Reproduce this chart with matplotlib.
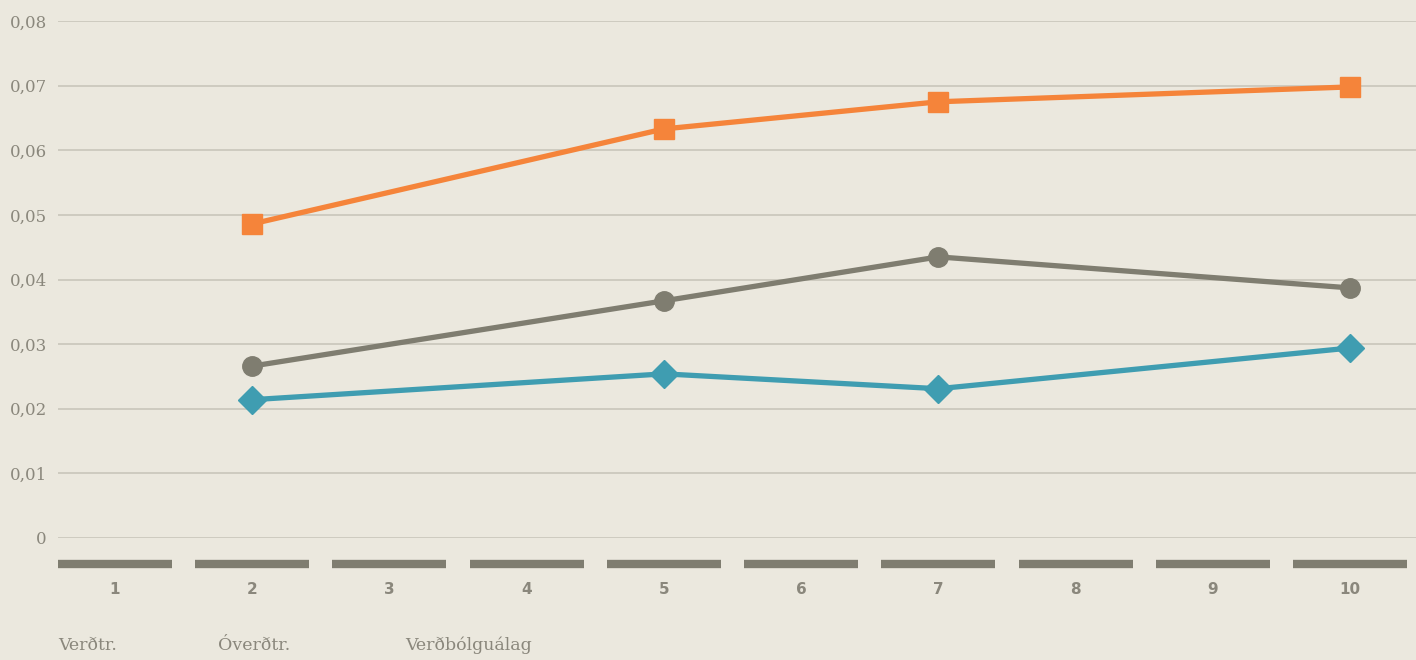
import numpy as np
import matplotlib
matplotlib.use("Agg")
import matplotlib.pyplot as plt
from matplotlib.ticker import FuncFormatter

# gögn lesin af myndinni
flokkar = [1, 2, 3, 4, 5, 6, 7, 8, 9, 10]
x_gildi = [2, 5, 7, 10]
appelsinugul = [0.0486, 0.0633, 0.0675, 0.0698]
grar = [0.0266, 0.0367, 0.0435, 0.0387]
blar = [0.0214, 0.0254, 0.0231, 0.0294]
heiti = ["Verðtr.", "Óverðtr.", "Verðbólguálag"]

bakgrunnur = "#EBE8DE"
textalitur = "#8A877C"
grar_litur = "#7F7D70"

fig = plt.figure(figsize=(14.16, 6.6), dpi=100, facecolor=bakgrunnur)
ax = fig.add_axes([58 / 1416, 122 / 660, 1358 / 1416, 517 / 660])
ax.set_facecolor(bakgrunnur)

ax.set_xlim(0.585, 10.48)
ax.set_ylim(0, 0.08)
ax.set_yticks(np.arange(0, 0.081, 0.01))
ax.yaxis.set_major_formatter(FuncFormatter(
    lambda v, p: "0" if abs(v) < 1e-9 else f"{v:.2f}".replace(".", ",")))
ax.grid(axis="y", color="#C9C6BB", linewidth=1.2)
ax.set_axisbelow(True)
for s in ax.spines.values():
    s.set_visible(False)
ax.tick_params(axis="y", length=0, pad=8, labelsize=12, labelcolor=textalitur)
for lab in ax.get_yticklabels():
    lab.set_fontfamily("DejaVu Serif")

# flokkastrik undir ásnum
trans = ax.get_xaxis_transform()
for f in flokkar:
    ax.plot([f - 0.415, f + 0.415], [-0.05, -0.05], transform=trans,
            color=grar_litur, linewidth=6, solid_capstyle="butt", clip_on=False)
ax.set_xticks(flokkar)
ax.tick_params(axis="x", length=0, pad=32, labelsize=11, labelcolor=textalitur)
for lab in ax.get_xticklabels():
    lab.set_fontweight("bold")

ax.plot(x_gildi, appelsinugul, color="#F5843A", linewidth=3.8, marker="s",
        markersize=15, zorder=3)
ax.plot(x_gildi, grar, color=grar_litur, linewidth=3.8, marker="o",
        markersize=14, zorder=3)
ax.plot(x_gildi, blar, color="#3F9DB1", linewidth=3.8, marker="D",
        markersize=14, zorder=3)

for xp, t in zip([58, 218, 405], heiti):
    fig.text(xp / 1416, 15 / 660, t, color=textalitur, fontsize=12.5,
             family="DejaVu Serif", va="center", ha="left")

fig.savefig("out.png", dpi=100, facecolor=bakgrunnur)
